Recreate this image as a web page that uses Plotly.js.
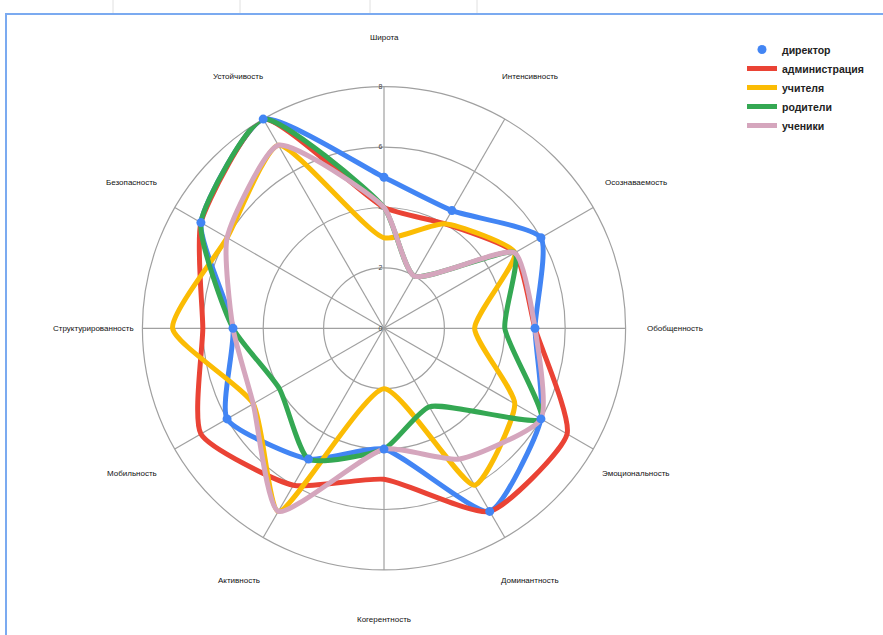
<!DOCTYPE html>
<html>
<head>
<meta charset="utf-8">
<script src="https://cdn.plot.ly/plotly-3.0.1.min.js"></script>
<style>
  html, body { margin: 0; padding: 0; background: #ffffff; }
  #chart { width: 883px; height: 635px; }
</style>
</head>
<body>
<div id="chart"></div>
<script>
// ---- data ----
const categories = ['Широта', 'Интенсивность', 'Осознаваемость', 'Обобщенность', 'Эмоциональность',
  'Доминантность', 'Когерентность', 'Активность', 'Мобильность', 'Структурированность',
  'Безопасность', 'Устойчивость'];
const seriesNames = ['директор', 'администрация', 'учителя', 'родители', 'ученики'];
const director       = [5, 4.5, 6, 5, 6, 7, 4, 5, 6, 5, 7, 8];
const administration = [4, 4,   5, 5, 7, 7, 5, 6, 7, 6, 7, 8];
const teachers       = [3, 4,   5, 3, 5, 6, 2, 7, 5, 7, 6, 7];
const parents        = [4, 2,   5, 4, 6, 3, 4, 5, 4, 5, 7, 8];
const students       = [4, 2,   5, 5, 6, 5, 4, 7, 5, 5, 6, 7];
const radialTicks = [0, 2, 4, 6, 8];

// ---- styling ----
const colors = ['#4285F4', '#EA4335', '#FBBC04', '#34A853', '#D5A6BD'];
const gridColor = '#a0a0a0';

const close = a => a.concat([a[0]]);
const thetaClosed = close(categories);
const values = [director, administration, teachers, parents, students];

const traces = [];
values.forEach((v, i) => {
  traces.push({
    type: 'scatterpolar',
    r: close(v),
    theta: thetaClosed,
    mode: 'lines',
    name: seriesNames[i],
    legendgroup: seriesNames[i],
    showlegend: i !== 0,
    legendrank: i + 1,
    line: { color: colors[i], width: 5, shape: 'spline', smoothing: 0.55 },
    hoverinfo: 'skip'
  });
});
// director points drawn on top
traces.push({
  type: 'scatterpolar',
  r: director,
  theta: categories,
  mode: 'markers',
  name: seriesNames[0],
  legendgroup: seriesNames[0],
  showlegend: true,
  legendrank: 0,
  marker: { color: colors[0], size: 9 },
  hoverinfo: 'skip'
});

const W = 883, H = 635;
const cx = 384, cy = 328.3, R = 241.6;
const labelDist = 291;   // px from centre to the middle of each category label

// category labels: placed around the circle, clockwise from the top
const annotations = categories.map((c, i) => {
  const a = (90 - i * 360 / categories.length) * Math.PI / 180;
  return {
    text: c, showarrow: false, xref: 'paper', yref: 'paper',
    x: (cx + labelDist * Math.cos(a)) / W,
    y: 1 - (cy - labelDist * Math.sin(a)) / H,
    xanchor: 'center', yanchor: 'middle',
    font: { family: 'Liberation Sans, Arial, sans-serif', size: 8, color: '#111' }
  };
});

const layout = {
  width: W, height: H,
  margin: { l: 0, r: 0, t: 0, b: 0 },
  paper_bgcolor: '#ffffff',
  font: { family: 'Liberation Sans, Arial, sans-serif', color: '#222' },
  showlegend: true,
  legend: {
    x: 742 / W, y: 1 - 35 / H, xanchor: 'left', yanchor: 'top',
    font: { size: 10.5, color: '#222', weight: 'bold' },
    itemwidth: 30,
    tracegroupgap: 0,
    bgcolor: 'rgba(0,0,0,0)'
  },
  annotations: annotations,
  polar: {
    domain: { x: [(cx - R) / W, (cx + R) / W], y: [1 - (cy + R) / H, 1 - (cy - R) / H] },
    bgcolor: '#ffffff',
    radialaxis: {
      range: [0, 8],
      tickvals: radialTicks,
      ticktext: radialTicks.map(String),
      angle: 90,
      tickangle: 90,
      side: 'counterclockwise',
      showline: false,
      ticks: '',
      tickfont: { size: 7, color: '#444' },
      gridcolor: gridColor,
      gridwidth: 1.2,
      layer: 'below traces'
    },
    angularaxis: {
      type: 'category',
      direction: 'clockwise',
      rotation: 90,
      showticklabels: false,
      ticks: '',
      gridcolor: gridColor,
      gridwidth: 1.2,
      linecolor: gridColor,
      linewidth: 1.2,
      layer: 'below traces'
    }
  },
  shapes: [
    { type: 'rect', xref: 'paper', yref: 'paper', x0: 6 / W, x1: 1.02, y0: -0.02, y1: 1 - 14 / H,
      line: { color: '#7baaf0', width: 2 }, fillcolor: 'rgba(0,0,0,0)', layer: 'above' },
    { type: 'line', xref: 'paper', yref: 'paper', x0: 113 / W, x1: 113 / W, y0: 1 - 13 / H, y1: 1, line: { color: '#e0e0e0', width: 1 } },
    { type: 'line', xref: 'paper', yref: 'paper', x0: 240 / W, x1: 240 / W, y0: 1 - 13 / H, y1: 1, line: { color: '#e0e0e0', width: 1 } },
    { type: 'line', xref: 'paper', yref: 'paper', x0: 370 / W, x1: 370 / W, y0: 1 - 13 / H, y1: 1, line: { color: '#e0e0e0', width: 1 } },
    { type: 'line', xref: 'paper', yref: 'paper', x0: 477 / W, x1: 477 / W, y0: 1 - 13 / H, y1: 1, line: { color: '#e0e0e0', width: 1 } }
  ]
};

Plotly.newPlot('chart', traces, layout, { displayModeBar: false, staticPlot: true });
</script>
</body>
</html>
